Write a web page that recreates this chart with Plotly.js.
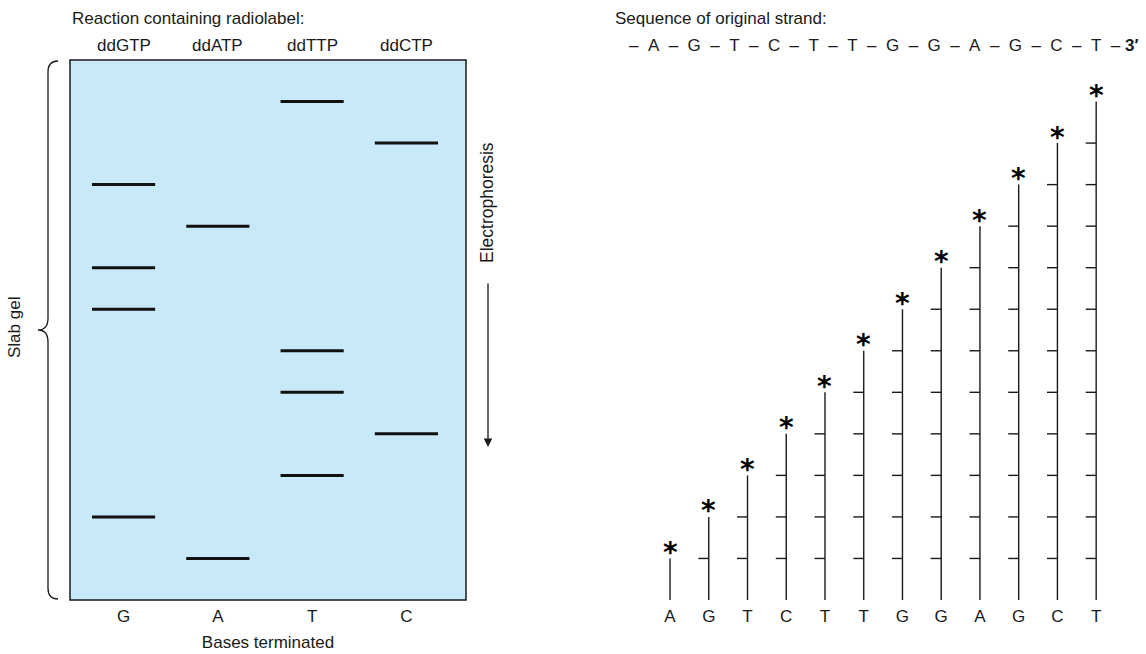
<!DOCTYPE html>
<html>
<head>
<meta charset="utf-8">
<script src="https://cdn.plot.ly/plotly-3.0.1.min.js"></script>
<style>html,body{margin:0;padding:0;background:#fff;}#chart{width:1146px;height:654px;}</style>
</head>
<body>
<div id="chart"></div>
<script>
// ---- data ----
const lanes = ['G', 'A', 'T', 'C'];                       // bases terminated (gel lanes)
const reagents = ['ddGTP', 'ddATP', 'ddTTP', 'ddCTP'];     // reaction containing radiolabel
const sequence = ['A', 'G', 'T', 'C', 'T', 'T', 'G', 'G', 'A', 'G', 'C', 'T']; // original strand
const fragmentLengths = [1, 2, 3, 4, 5, 6, 7, 8, 9, 10, 11, 12];

// ---- page geometry helpers (styling only) ----
const W = 1146, H = 654;
const px = x => x / W;
const py = y => 1 - y / H;
const FONT = 'Liberation Sans, Arial, sans-serif';
const INK = '#1a1a1a';
const FS = 17;

// ---- gel bands (one band per fragment, in the lane of its terminal base) ----
const bandHalf = 0.335;
const bandX = [], bandY = [];
sequence.forEach((base, i) => {
  const lane = lanes.indexOf(base);
  bandX.push(lane - bandHalf, lane + bandHalf, null);
  bandY.push(fragmentLengths[i], fragmentLengths[i], null);
});

// ---- ladder of fragments ----
const tickLen = 0.27;
const stemX = [], stemY = [], tickX = [], tickY = [];
sequence.forEach((base, i) => {
  stemX.push(i, i, null);
  stemY.push(0, fragmentLengths[i], null);
  for (let k = 0; k < i; k++) {
    tickX.push(i - tickLen, i, null);
    tickY.push(fragmentLengths[k], fragmentLengths[k], null);
  }
});

const traces = [
  {x: bandX, y: bandY, xaxis: 'x', yaxis: 'y', mode: 'lines', line: {color: '#111', width: 3}, hoverinfo: 'skip'},
  {x: stemX, y: stemY, xaxis: 'x2', yaxis: 'y', mode: 'lines', line: {color: INK, width: 1.4}, cliponaxis: false, hoverinfo: 'skip'},
  {x: tickX, y: tickY, xaxis: 'x2', yaxis: 'y', mode: 'lines', line: {color: INK, width: 1.4}, cliponaxis: false, hoverinfo: 'skip'}
];

const annotations = [];
// reagent labels above lanes
reagents.forEach((r, i) => annotations.push({
  x: i, xref: 'x', y: py(45), yref: 'paper', text: r, showarrow: false,
  font: {family: FONT, size: FS, color: INK}, xanchor: 'center', yanchor: 'middle'
}));
// asterisks (radiolabel) on top of each fragment
sequence.forEach((b, i) => annotations.push({
  x: i, xref: 'x2', y: fragmentLengths[i], yref: 'y', text: '<b>*</b>', showarrow: false,
  font: {family: 'DejaVu Sans, sans-serif', size: 28, color: '#000'}, xanchor: 'center', yanchor: 'middle', yshift: 6
}));
annotations.push(
  {x: px(70), y: py(18), xref: 'paper', yref: 'paper', text: 'Reaction containing radiolabel:', showarrow: false,
   xanchor: 'left', yanchor: 'middle', font: {family: FONT, size: FS, color: INK}},
  {x: px(613), y: py(18), xref: 'paper', yref: 'paper', text: 'Sequence of original strand:', showarrow: false,
   xanchor: 'left', yanchor: 'middle', font: {family: FONT, size: FS, color: INK}},
  {x: px(627), y: py(46), xref: 'paper', yref: 'paper',
   text: '–' + sequence.map(b => '\u00a0\u00a0' + b + '\u00a0\u00a0–').join('') + '\u00a0<b>3′</b>',
   showarrow: false, xanchor: 'left', yanchor: 'middle', font: {family: FONT, size: FS, color: INK}},
  {x: px(15), y: py(328), xref: 'paper', yref: 'paper', text: 'Slab gel', textangle: -90, showarrow: false,
   xanchor: 'center', yanchor: 'middle', font: {family: FONT, size: FS, color: INK}},
  {x: px(487), y: py(203), xref: 'paper', yref: 'paper', text: 'Electrophoresis', textangle: -90, showarrow: false,
   xanchor: 'center', yanchor: 'middle', font: {family: FONT, size: 17.5, color: INK}},
  {x: px(488), y: py(447), xref: 'paper', yref: 'paper', text: '', showarrow: true, ax: 0, ay: -165,
   arrowhead: 2, arrowsize: 1.3, arrowwidth: 1.3, arrowcolor: INK}
);

// curly brace beside the gel
const brace = [
  'M', px(58), py(61),
  'Q', px(48), py(61), px(48), py(72),
  'L', px(48), py(318),
  'Q', px(48), py(330), px(38), py(330),
  'Q', px(48), py(330), px(48), py(342),
  'L', px(48), py(588),
  'Q', px(48), py(599), px(58), py(599)
].join(' ');

const shapes = [
  {type: 'rect', xref: 'x domain', yref: 'y domain', x0: 0, x1: 1, y0: 0, y1: 1, layer: 'below',
   fillcolor: '#c7e9f8', line: {color: '#1a1a1a', width: 1.5}},
  {type: 'path', xref: 'paper', yref: 'paper', path: brace, line: {color: INK, width: 1.3}}
];

const layout = {
  width: W, height: H, margin: {l: 0, r: 0, t: 0, b: 0},
  paper_bgcolor: '#fff', plot_bgcolor: 'rgba(0,0,0,0)', showlegend: false,
  font: {family: FONT, color: INK},
  xaxis: {domain: [px(70), px(466)], range: [-0.568, 3.632], anchor: 'y',
          tickvals: [0, 1, 2, 3], ticktext: lanes, ticks: '', showgrid: false, zeroline: false, showline: false,
          tickfont: {family: FONT, size: FS, color: INK}, ticklabelstandoff: 4,
          title: {text: 'Bases terminated', font: {family: FONT, size: FS, color: INK}, standoff: 11}},
  xaxis2: {domain: [px(640), px(1126)], range: [-0.775, 11.77], anchor: 'y',
           tickvals: fragmentLengths.map(n => n - 1), ticktext: sequence, ticks: '', showgrid: false,
           zeroline: false, showline: false, ticklabelstandoff: 4,
           tickfont: {family: FONT, size: FS, color: INK}},
  yaxis: {domain: [py(600), py(60)], range: [0, 13.0], visible: false, showgrid: false, zeroline: false},
  annotations, shapes
};

Plotly.newPlot('chart', traces, layout, {staticPlot: true, displayModeBar: false});
</script>
</body>
</html>
